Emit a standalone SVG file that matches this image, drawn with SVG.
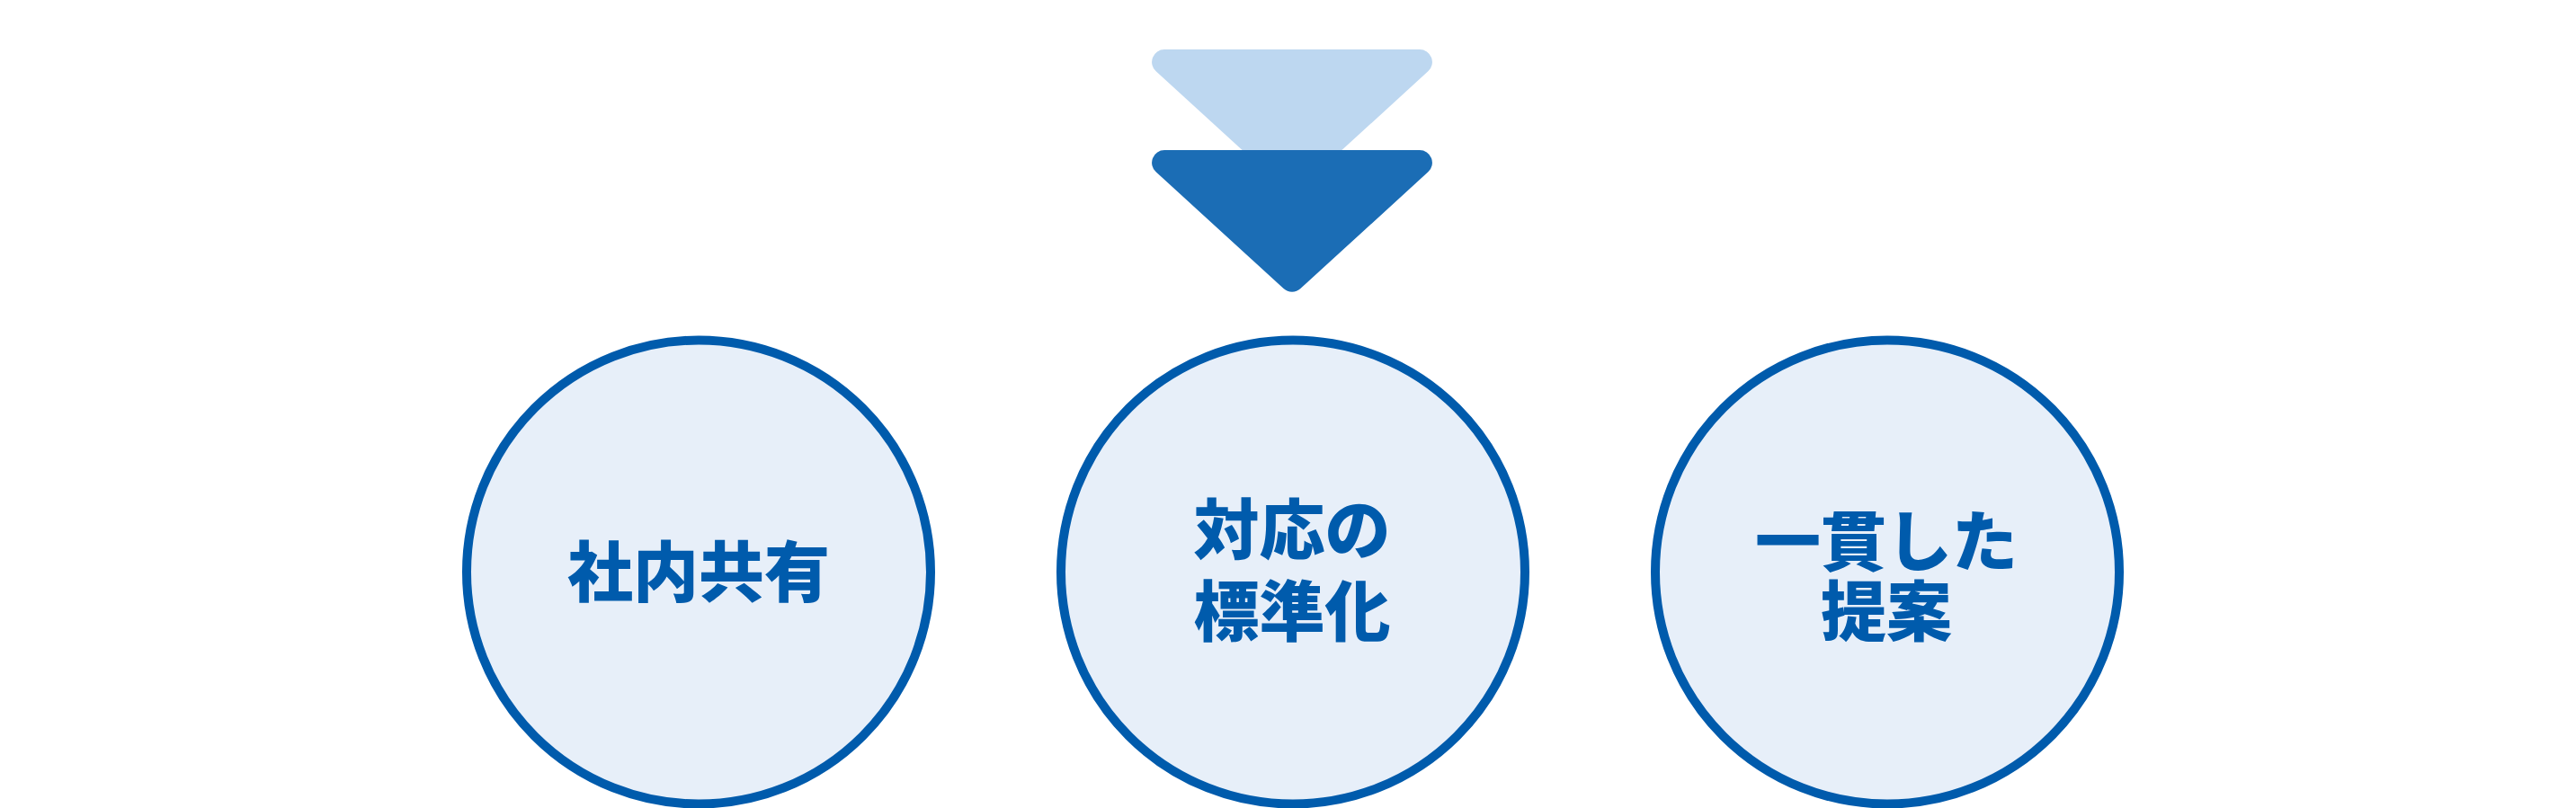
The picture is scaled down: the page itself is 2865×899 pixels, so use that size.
<svg xmlns="http://www.w3.org/2000/svg" width="2865" height="899" viewBox="0 0 2865 899">
  <style>
    .node circle { fill: #E7EFF9; stroke: #005BAC; stroke-width: 10; }
    .label { font-family: "Noto Sans CJK JP", "Noto Sans CJK SC", sans-serif; font-weight: 900; font-size: 73px; fill: #005BAC; text-anchor: middle; }
  </style>
  <defs>
    <path id="chev" d="M1295.1,167 L1578.9,167 A14,14 0 0 1 1588.35,191.35 L1446.44,320.98 A14,14 0 0 1 1427.56,320.98 L1285.65,191.35 A14,14 0 0 1 1295.1,167 Z"/>
  </defs>
  <rect width="2865" height="899" fill="#FFFFFF"/>
  <g id="connectors">
    <use href="#chev" transform="translate(0,-112)" fill="#BDD7F0"/>
    <use href="#chev" fill="#1B6DB5"/>
  </g>
  <g id="node-shanai" class="node">
    <circle cx="777" cy="636.5" r="258"/>
    <text class="label" x="777" y="663">社内共有</text>
  </g>
  <g id="node-hyojunka" class="node">
    <circle cx="1438" cy="636.5" r="258"/>
    <text class="label" x="1437" y="616">対応の</text>
    <text class="label" x="1437" y="707">標準化</text>
  </g>
  <g id="node-teian" class="node">
    <circle cx="2099" cy="636.5" r="258"/>
    <text class="label" x="2098" y="629">一貫した</text>
    <text class="label" x="2098" y="707">提案</text>
  </g>
</svg>
